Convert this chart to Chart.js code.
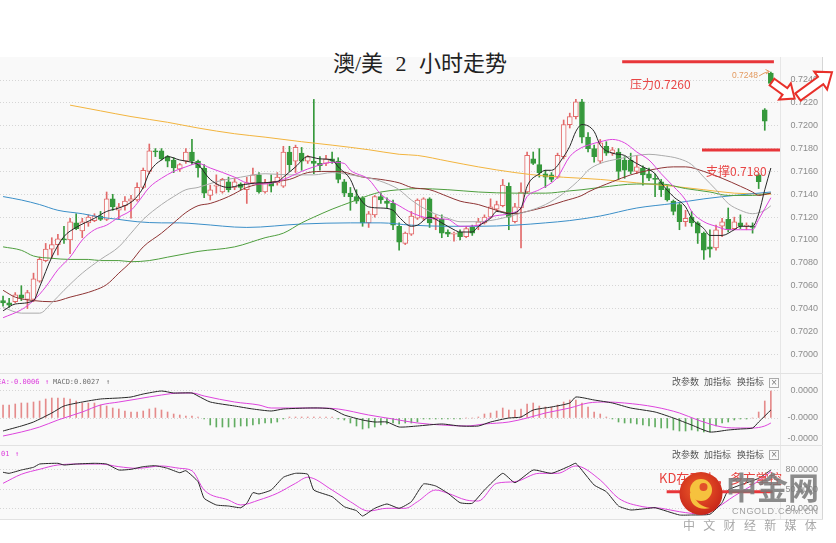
<!DOCTYPE html>
<html><head><meta charset="utf-8">
<script src="https://cdn.jsdelivr.net/npm/chart.js@4.4.0/dist/chart.umd.min.js"></script>
<style>
html,body{margin:0;padding:0;background:#fff;}
#wrap{position:relative;width:836px;height:543px;overflow:hidden;font-family:"Noto Sans CJK SC",sans-serif;}
.abs{position:absolute;white-space:nowrap;}
canvas{position:absolute;left:0;}
.mono{font-family:"DejaVu Sans Mono",monospace;font-size:7px;line-height:11px;}
.tool{font-size:9px;line-height:12px;color:#555;}
.xbox{position:absolute;width:8px;height:8px;border:1px solid #aaa;font-size:8px;line-height:8px;text-align:center;color:#777;font-family:"DejaVu Sans",sans-serif;}
</style></head><body>
<div id="wrap">
  <div class="abs" style="left:0;top:57px;width:823px;height:462px;background:#f9f9f9"></div>
  <div class="abs" style="left:780px;top:57px;width:1px;height:462px;background:#e6e6e6"></div>
  <div class="abs" style="left:822px;top:57px;width:1px;height:462px;background:#d6d6d6"></div>
  <div class="abs" style="left:0;top:373px;width:823px;height:1px;background:#e2e2e2"></div>
  <div class="abs" style="left:0;top:445px;width:823px;height:1px;background:#e2e2e2"></div>
  <div class="abs" style="left:0;top:519px;width:823px;height:1px;background:#e2e2e2"></div>

  <div class="abs" style="left:2px;top:51px;width:836px;text-align:center;font-family:'Liberation Serif','Noto Sans CJK SC',serif;font-size:22px;line-height:26px;word-spacing:7px;color:#222">澳/美 2 小时走势</div>

  <canvas id="cMain" width="836" height="316" style="top:57px"></canvas>
  <canvas id="cMacd" width="836" height="72" style="top:373px"></canvas>
  <canvas id="cKd" width="836" height="73" style="top:446px"></canvas>

  <!-- MACD header -->
  <div class="abs mono" style="left:-7px;top:377px;color:#dd40dd">DEA:-0.0006</div>
  <div class="abs mono" style="left:45px;top:377px;color:#dd40dd">↑</div>
  <div class="abs mono" style="left:53px;top:377px;color:#707070">MACD:0.0027</div>
  <div class="abs mono" style="left:106px;top:377px;color:#707070">↑</div>
  <div class="abs tool" style="left:672px;top:376px">改参数</div>
  <div class="abs tool" style="left:704px;top:376px">加指标</div>
  <div class="abs tool" style="left:737px;top:376px">换指标</div>
  <div class="xbox" style="left:769px;top:378px">×</div>

  <!-- KD header -->
  <div class="abs mono" style="left:-20px;top:449px;color:#dd40dd">D:63.01</div>
  <div class="abs mono" style="left:15px;top:449px;color:#dd40dd">↑</div>
  <div class="abs tool" style="left:672px;top:448.5px">改参数</div>
  <div class="abs tool" style="left:704px;top:448.5px">加指标</div>
  <div class="abs tool" style="left:737px;top:448.5px">换指标</div>
  <div class="xbox" style="left:769px;top:450px">×</div>

  <!-- annotations -->
  <div class="abs" style="left:630px;top:76px;font-size:12px;line-height:16px;color:#e84646">压力0.7260</div>
  <div class="abs" style="left:706px;top:162.5px;font-size:12px;line-height:16px;color:#e84646">支撑0.7180</div>
  <div class="abs" style="left:732px;top:70px;font-family:'Liberation Sans',sans-serif;font-size:8.5px;line-height:11px;color:#e39a60">0.7248</div>
  <div class="abs" style="left:659px;top:468.5px;font-size:13px;line-height:17px;color:#e8433f">KD在50上，多方掌控</div>

  <svg class="abs" style="left:0;top:0" width="836" height="543">
    <defs>
      <radialGradient id="rg" cx="45%" cy="40%" r="60%">
        <stop offset="0" stop-color="#f0602a"/>
        <stop offset="1" stop-color="#c8261a"/>
      </radialGradient>
    </defs>
    <path d="M759,76 Q764,72.5 769,71.5" stroke="#e39a60" fill="none" stroke-width="1"/>
    <path d="M765.5,69.5 L769.5,71.5 L766,74" stroke="#e39a60" fill="none" stroke-width="1"/>
    <g transform="translate(772,82) rotate(36)">
      <polygon points="0,-4 16,-4 16,-10 28,0 16,10 16,4 0,4" fill="#fff" stroke="#e8302a" stroke-width="2" stroke-linejoin="miter"/>
    </g>
    <g transform="translate(798,97) rotate(-36)">
      <polygon points="0,-4.5 28,-4.5 28,-11 42,0 28,11 28,4.5 0,4.5" fill="#fff" stroke="#e8302a" stroke-width="2" stroke-linejoin="miter"/>
    </g>
    <circle cx="701" cy="493.5" r="21.5" fill="url(#rg)"/>
    <circle cx="701" cy="490" r="11" fill="#f6c23e"/>
    <circle cx="703.5" cy="487" r="4" fill="#e2502a"/>
    <path d="M690,493 C689,504 698,511 710,508 C702,507 695,502 694,494 Z" fill="#f6c23e"/>
  </svg>
  <div class="abs" style="left:726px;top:468px;font-size:31px;line-height:36px;font-weight:bold;color:rgba(120,120,120,0.85)">中金网</div>
  <div class="abs" style="left:732px;top:505px;font-family:'Liberation Sans',sans-serif;font-size:9px;line-height:12px;letter-spacing:0.7px;color:#a0a0a0">CNGOLD.COM.CN</div>
  <div class="abs" style="left:683px;top:517px;font-size:12px;line-height:16px;letter-spacing:8.3px;color:#a8a8a8">中文财经新媒体</div>
</div>

<script>
// ---------- candle data (2-hour AUD/USD) ----------
const opens  = [0.7047,0.7045,0.7046,0.7052,0.7048,0.7048,0.7064,0.7082,0.7092,0.7096,0.7101,0.7100,0.7115,0.7108,0.7115,0.7117,0.7121,0.7118,0.7136,0.7126,
0.7130,0.7134,0.7135,0.7146,0.7160,0.7178,0.7178,0.7173,0.7170,0.7162,0.7169,0.7177,0.7169,0.7163,0.7139,0.7147,0.7142,0.7151,0.7146,0.7149,
0.7144,0.7150,0.7157,0.7142,0.7150,0.7150,0.7147,0.7177,0.7169,0.7176,0.7169,0.7169,0.7167,0.7167,0.7171,0.7169,0.7151,0.7141,0.7138,0.7137,
0.7115,0.7122,0.7138,0.7134,0.7132,0.7112,0.7097,0.7105,0.7119,0.7119,0.7136,0.7118,0.7118,0.7107,0.7105,0.7107,0.7103,0.7111,0.7112,0.7115,
0.7120,0.7127,0.7130,0.7147,0.7116,0.7128,0.7142,0.7171,0.7166,0.7158,0.7157,0.7155,0.7173,0.7201,0.7208,0.7221,0.7190,0.7180,0.7169,0.7182,
0.7176,0.7177,0.7170,0.7170,0.7160,0.7163,0.7158,0.7154,0.7151,0.7145,0.7134,0.7131,0.7116,0.7120,0.7115,0.7106,0.7094,0.7093,0.7112,0.7118,
0.7110,0.7115,0.7112,0.7112,0.7157,0.7214,0.7246];
const highs  = [0.7051,0.7049,0.7054,0.7060,0.7056,0.7071,0.7085,0.7097,0.7102,0.7105,0.7112,0.7119,0.7123,0.7119,0.7122,0.7123,0.7125,0.7142,0.7140,0.7132,
0.7138,0.7139,0.7150,0.7163,0.7184,0.7180,0.7180,0.7174,0.7172,0.7167,0.7180,0.7188,0.7170,0.7166,0.7148,0.7157,0.7154,0.7155,0.7154,0.7150,
0.7155,0.7163,0.7159,0.7153,0.7157,0.7159,0.7182,0.7182,0.7183,0.7181,0.7174,0.7223,0.7173,0.7174,0.7177,0.7172,0.7153,0.7146,0.7144,0.7138,
0.7125,0.7139,0.7141,0.7137,0.7135,0.7115,0.7107,0.7125,0.7136,0.7137,0.7137,0.7122,0.7122,0.7109,0.7107,0.7109,0.7112,0.7113,0.7119,0.7122,
0.7136,0.7134,0.7153,0.7150,0.7132,0.7150,0.7177,0.7177,0.7180,0.7161,0.7159,0.7176,0.7205,0.7211,0.7223,0.7223,0.7194,0.7183,0.7188,0.7186,
0.7181,0.7180,0.7173,0.7176,0.7174,0.7165,0.7163,0.7158,0.7153,0.7148,0.7135,0.7132,0.7126,0.7125,0.7116,0.7107,0.7109,0.7113,0.7119,0.7128,
0.7120,0.7122,0.7115,0.7115,0.7158,0.7215,0.7247];
const lows   = [0.7042,0.7041,0.7045,0.7047,0.7040,0.7046,0.7063,0.7081,0.7084,0.7087,0.7097,0.7088,0.7109,0.7102,0.7112,0.7116,0.7117,0.7117,0.7126,0.7118,
0.7126,0.7119,0.7134,0.7145,0.7158,0.7173,0.7170,0.7164,0.7159,0.7160,0.7167,0.7166,0.7155,0.7137,0.7135,0.7141,0.7141,0.7142,0.7144,0.7144,
0.7132,0.7149,0.7141,0.7141,0.7142,0.7148,0.7146,0.7160,0.7159,0.7161,0.7167,0.7158,0.7161,0.7165,0.7167,0.7150,0.7138,0.7126,0.7132,0.7112,
0.7111,0.7120,0.7132,0.7128,0.7109,0.7091,0.7096,0.7104,0.7118,0.7117,0.7111,0.7109,0.7102,0.7103,0.7099,0.7100,0.7102,0.7104,0.7109,0.7114,
0.7119,0.7125,0.7129,0.7109,0.7115,0.7093,0.7141,0.7166,0.7155,0.7146,0.7151,0.7154,0.7171,0.7198,0.7206,0.7185,0.7177,0.7168,0.7167,0.7174,
0.7174,0.7153,0.7154,0.7158,0.7158,0.7148,0.7152,0.7138,0.7138,0.7134,0.7122,0.7109,0.7112,0.7112,0.7097,0.7083,0.7085,0.7091,0.7103,0.7107,
0.7109,0.7110,0.7109,0.7106,0.7145,0.7196,0.7236];
const closes = [0.7045,0.7043,0.7052,0.7049,0.7054,0.7066,0.7083,0.7092,0.7096,0.7101,0.7100,0.7116,0.7110,0.7116,0.7120,0.7121,0.7118,0.7136,0.7129,0.7129,
0.7134,0.7136,0.7146,0.7161,0.7178,0.7177,0.7171,0.7169,0.7163,0.7166,0.7177,0.7169,0.7163,0.7141,0.7144,0.7148,0.7153,0.7144,0.7151,0.7146,
0.7150,0.7157,0.7142,0.7150,0.7147,0.7155,0.7177,0.7166,0.7181,0.7169,0.7173,0.7167,0.7165,0.7171,0.7169,0.7153,0.7141,0.7138,0.7134,0.7115,
0.7123,0.7138,0.7135,0.7132,0.7113,0.7098,0.7106,0.7121,0.7135,0.7136,0.7115,0.7120,0.7106,0.7105,0.7106,0.7103,0.7110,0.7106,0.7116,0.7120,
0.7129,0.7131,0.7148,0.7120,0.7129,0.7142,0.7174,0.7167,0.7159,0.7155,0.7153,0.7174,0.7201,0.7208,0.7221,0.7190,0.7180,0.7173,0.7185,0.7176,
0.7179,0.7160,0.7161,0.7160,0.7164,0.7157,0.7154,0.7153,0.7144,0.7135,0.7125,0.7116,0.7119,0.7115,0.7106,0.7091,0.7092,0.7109,0.7116,0.7109,
0.7116,0.7112,0.7113,0.7111,0.7151,0.7204,0.7237];

// moving averages: [candle index, value]
const ma5 = [[0,0.7038],[2,0.7044],[5,0.7047],[6,0.7059],[8,0.7085],[10,0.7103],[12,0.7111],[15,0.7119],[17,0.7125],[19,0.7128],[21,0.7133],[22,0.7138],[23,0.7146],[24,0.7159],[25,0.7166],[26,0.7170],[27,0.7173],[29,0.7170],[31,0.7168],[32,0.7166],[34,0.7153],[37,0.7146],[39,0.7148],[42,0.7150],[45,0.7151],[46,0.7155],[48,0.7164],[50,0.7173],[52,0.7171],[54,0.7170],[55,0.7164],[57,0.7153],[58,0.7141],[60,0.7129],[62,0.7128],[64,0.7126],[65,0.7120],[67,0.7112],[68,0.7113],[70,0.7120],[72,0.7115],[74,0.7109],[75,0.7107],[77,0.7107],[78,0.7112],[80,0.7119],[81,0.7125],[83,0.7123],[85,0.7128],[86,0.7147],[88,0.7158],[89,0.7161],[90,0.7161],[92,0.7173],[93,0.7182],[94,0.7195],[95,0.7201],[97,0.7195],[98,0.7183],[100,0.7176],[102,0.7174],[103,0.7170],[105,0.7164],[107,0.7158],[108,0.7150],[110,0.7138],[112,0.7129],[113,0.7119],[115,0.7110],[116,0.7104],[118,0.7104],[120,0.7109],[121,0.7112],[123,0.7112],[124,0.7123],[125,0.7144],[126,0.7163]];
const ma10 = [[0,0.7032],[3,0.7039],[5,0.7047],[7,0.7059],[9,0.7074],[11,0.7085],[13,0.7100],[15,0.7109],[17,0.7113],[19,0.7120],[21,0.7126],[22,0.7132],[24,0.7146],[26,0.7154],[28,0.7160],[30,0.7164],[32,0.7167],[34,0.7163],[38,0.7155],[40,0.7150],[43,0.7149],[46,0.7153],[49,0.7160],[51,0.7164],[54,0.7168],[56,0.7167],[57,0.7161],[60,0.7153],[62,0.7140],[65,0.7130],[67,0.7124],[70,0.7119],[73,0.7118],[75,0.7112],[78,0.7113],[80,0.7120],[83,0.7123],[85,0.7128],[86,0.7138],[88,0.7144],[90,0.7150],[91,0.7155],[93,0.7173],[95,0.7181],[96,0.7183],[98,0.7186],[100,0.7188],[102,0.7185],[104,0.7177],[106,0.7170],[108,0.7158],[110,0.7147],[112,0.7135],[113,0.7125],[115,0.7116],[117,0.7112],[119,0.7109],[121,0.7109],[123,0.7109],[124,0.7118],[126,0.7137]];
const ma20 = [[0,0.7041],[3,0.7036],[6,0.7036],[8,0.7045],[10,0.7056],[13,0.7071],[16,0.7083],[19,0.7094],[21,0.7106],[23,0.7118],[26,0.7131],[28,0.7138],[30,0.7144],[32,0.7146],[35,0.7151],[39,0.7155],[43,0.7158],[47,0.7157],[51,0.7157],[54,0.7159],[57,0.7157],[61,0.7153],[64,0.7147],[65,0.7144],[67,0.7135],[70,0.7125],[73,0.7119],[75,0.7116],[78,0.7116],[81,0.7118],[84,0.7122],[86,0.7125],[89,0.7131],[92,0.7141],[95,0.7155],[96,0.7161],[98,0.7167],[101,0.7171],[104,0.7174],[106,0.7175],[108,0.7174],[111,0.7171],[113,0.7166],[115,0.7155],[117,0.7144],[119,0.7132],[121,0.7126],[123,0.7123],[125,0.7126],[126,0.7130]];
const ma30 = [[0,0.7056],[2,0.7050],[5,0.7047],[8,0.7046],[11,0.7050],[15,0.7056],[17,0.7061],[19,0.7071],[21,0.7081],[23,0.7094],[26,0.7106],[28,0.7115],[30,0.7124],[32,0.7130],[34,0.7132],[37,0.7138],[40,0.7146],[43,0.7150],[47,0.7153],[50,0.7159],[53,0.7160],[55,0.7160],[59,0.7155],[62,0.7153],[65,0.7150],[67,0.7146],[70,0.7144],[73,0.7138],[75,0.7134],[78,0.7131],[81,0.7126],[84,0.7123],[86,0.7125],[89,0.7129],[92,0.7134],[95,0.7139],[96,0.7142],[100,0.7151],[103,0.7157],[106,0.7161],[110,0.7164],[112,0.7164],[115,0.7160],[118,0.7154],[121,0.7147],[123,0.7142],[124,0.7139],[126,0.7141]];
const ma60 = [[0,0.7094],[3,0.7091],[5,0.7086],[8,0.7084],[11,0.7083],[14,0.7083],[16,0.7082],[19,0.7082],[21,0.7081],[24,0.7082],[27,0.7085],[30,0.7088],[32,0.7090],[38,0.7094],[43,0.7102],[46,0.7106],[49,0.7115],[51,0.7120],[54,0.7127],[57,0.7133],[60,0.7139],[62,0.7142],[65,0.7144],[68,0.7145],[73,0.7144],[78,0.7142],[84,0.7141],[89,0.7141],[93,0.7143],[95,0.7144],[98,0.7146],[104,0.7149],[108,0.7149],[112,0.7145],[116,0.7142],[119,0.7139],[123,0.7139],[126,0.7141]];
const ma120 = [[0,0.7138],[3,0.7135],[6,0.7131],[9,0.7126],[13,0.7123],[16,0.7120],[19,0.7118],[22,0.7116],[26,0.7115],[29,0.7115],[32,0.7114],[40,0.7111],[49,0.7114],[57,0.7115],[62,0.7115],[67,0.7113],[73,0.7112],[78,0.7112],[84,0.7113],[89,0.7115],[93,0.7117],[98,0.7121],[104,0.7128],[110,0.7132],[115,0.7136],[120,0.7139],[126,0.7142]];
const ma250 = [[11,0.7218],[16,0.7213],[21,0.7208],[27,0.7203],[32,0.7198],[38,0.7193],[43,0.7190],[49,0.7186],[54,0.7183],[60,0.7179],[65,0.7175],[68,0.7174],[73,0.7169],[78,0.7164],[84,0.7159],[89,0.7156],[95,0.7154],[98,0.7153],[104,0.7150],[110,0.7147],[115,0.7144],[120,0.7141],[126,0.7140]];

// analyst lines
const resistLine = [[101.6,0.7256],[126.5,0.7256]];
const supportLine = [[114.7,0.71788],[127.5,0.71788]];
const kdLine = [[108.9,46.6],[126.3,46.6]];

// MACD
const macdHist = [0.0013,0.0013,0.0014,0.0015,0.0015,0.0016,0.0017,0.0019,0.0020,0.0020,0.0020,0.0019,0.0017,0.0015,0.0015,0.0015,0.0013,0.0012,0.0010,0.0009,
0.0007,0.0006,0.0006,0.0007,0.0009,0.0010,0.0008,0.0006,0.0004,0.0003,0.0002,0.0002,0.0001,
-0.0001,-0.0007,-0.0009,-0.0009,-0.0009,-0.0009,-0.0008,-0.0008,-0.0007,-0.0006,-0.0005,-0.0005,-0.0004,-0.0001,
0.0001,0.0001,0.0001,0.0001,0.0001,0.0001,0.0001,0.0001,-0.0001,
-0.0002,-0.0005,-0.0008,-0.0011,-0.0010,-0.0009,-0.0007,-0.0006,-0.0005,-0.0006,
-0.0005,-0.0005,-0.0004,-0.0001,-0.0001,-0.0001,-0.0001,-0.0001,-0.0001,-0.0001,0,0,
0.0001,0.0004,0.0005,0.0007,0.0010,0.0008,0.0008,0.0009,0.0014,0.0015,0.0012,0.0011,0.0011,0.0013,0.0016,0.0018,0.0018,0.0015,0.0011,0.0006,0.0004,
0.0001,-0.0001,
-0.0004,-0.0005,-0.0005,-0.0006,-0.0007,-0.0008,-0.0009,-0.0010,-0.0010,-0.0012,-0.0013,-0.0013,-0.0012,-0.0013,-0.0014,-0.0014,-0.0008,-0.0005,-0.0004,-0.0002,-0.0001,-0.0001,0,
0.0006,0.0017,0.0027];
const dif = [[0,-0.0013],[3,-0.0008],[5,-0.0004],[8,0.0005],[10,0.0012],[13,0.0016],[16,0.0019],[19,0.0020],[21,0.0021],[23,0.0024],[26,0.0027],[28,0.0025],[31,0.0025],[32,0.0022],[34,0.0016],[38,0.0012],[41,0.0009],[44,0.0007],[46,0.0009],[50,0.0010],[52,0.0010],[54,0.0009],[56,0.0003],[59,-0.0002],[61,-0.0004],[63,-0.0004],[65,-0.0009],[68,-0.0008],[72,-0.0006],[75,-0.0008],[78,-0.0008],[80,-0.0004],[83,0.0000],[85,0.0001],[87,0.0008],[90,0.0011],[93,0.0015],[94,0.0021],[97,0.0018],[100,0.0015],[103,0.0010],[107,0.0006],[110,0.0000],[113,-0.0007],[116,-0.0014],[119,-0.0012],[121,-0.0011],[123,-0.0010],[124,-0.0004],[126,0.0008]];
const dea = [[0,-0.0018],[3,-0.0014],[6,-0.0009],[9,-0.0002],[13,0.0006],[16,0.0013],[19,0.0016],[22,0.0019],[26,0.0023],[29,0.0025],[31,0.0025],[33,0.0022],[38,0.0016],[42,0.0013],[44,0.0010],[47,0.0010],[52,0.0010],[55,0.0009],[60,0.0003],[64,-0.0001],[68,-0.0005],[72,-0.0007],[76,-0.0008],[79,-0.0006],[83,-0.0004],[86,0.0000],[89,0.0005],[93,0.0010],[96,0.0015],[99,0.0016],[102,0.0015],[107,0.0011],[111,0.0005],[114,-0.0002],[118,-0.0009],[121,-0.0010],[123,-0.0010],[125,-0.0008],[126,-0.0005]];

// KD
const kLine = [[0,76.5],[1,74.9],[3,80],[5,84.2],[6,89.2],[9,90.3],[10,87.7],[12,89.2],[15,90.3],[17,89.2],[19,80],[21,81.1],[23,85.1],[25,86.6],[27,82.6],[29,75.8],[30,78.9],[32,62],[33,36.5],[35,26.2],[37,24.6],[39,22],[40,28.8],[41,45.1],[42,43.1],[44,49.2],[46,68.8],[48,74.9],[50,73.4],[51,49.2],[54,38.9],[56,23.5],[58,17.4],[59,9.2],[61,21.1],[63,27.7],[65,21.1],[67,31.2],[69,58.5],[71,55.4],[73,44.2],[75,29.7],[77,28.8],[79,49.2],[82,74.9],[84,60.5],[87,80],[90,74.9],[93,86.2],[94,90.3],[97,56.9],[99,46.6],[101,24.6],[103,18.5],[106,21.1],[107,22],[111,10.8],[113,10.8],[116,12],[118,30],[119,49.2],[121,56.9],[124,67.2],[126,80]];
const dLine = [[0,59.5],[3,73.4],[6,81.1],[9,87.7],[13,89.2],[16,89.2],[19,85.1],[22,82.6],[26,86.2],[29,82.6],[31,78.9],[33,49.2],[37,33.8],[39,26.2],[42,33.8],[45,44.2],[48,59.5],[50,68.8],[54,49.2],[57,31.2],[60,16.9],[63,21.1],[66,21.1],[68,31.2],[71,49.2],[73,44.2],[76,33.8],[78,32.3],[81,59.5],[84,62],[88,74.9],[91,74.9],[94,86.2],[98,64.6],[101,36.5],[105,23.5],[108,21.1],[111,15.8],[115,12],[117,21],[120,40],[123,56.9],[126,77.4]];

// axis ticks
const mainTicks = [0.7000,0.7020,0.7040,0.7060,0.7080,0.7100,0.7120,0.7140,0.7160,0.7180,0.7200,0.7220,0.7240];
const mainTickLabels = mainTicks.map(v => v.toFixed(4));
const macdTicks = [-0.0021, 0, 0.0027];
const macdTickLabels = ['-0.0000','-0.0000','0.0000'];
const kdTicks = [20, 50, 80];
const kdTickLabels = ['20.0000','50.0000','80.0000'];

// ---------- drawing ----------
const UP = '#e26a6a', DOWN = '#36993c';
const idx = opens.map((_, i) => i);
const isUp = idx.map(i => closes[i] >= opens[i]);

function xAxis() { return { type: 'linear', min: -0.5, max: 127.5, display: false, offset: false }; }
function yAxis(min, max, ticksArr, labels, gridColor) {
  return {
    position: 'right', min: min, max: max,
    afterFit: s => { s.width = 38; s.paddingTop = 0; s.paddingBottom = 0; },
    afterBuildTicks: s => { s.ticks = ticksArr.map(v => ({ value: v })); },
    ticks: { callback: (v, i) => labels[i], color: '#8c8c8c', font: { family: 'Liberation Sans', size: 9 }, padding: 4, crossAlign: 'far', autoSkip: false },
    grid: { color: gridColor || '#d6d6d6', drawTicks: false, lineWidth: 1 },
    border: { display: false, dash: [1, 2] }
  };
}
function line(pairs, color, extra) {
  return Object.assign({ type: 'line', data: pairs.map(p => ({ x: p[0], y: p[1] })), borderColor: color, borderWidth: 1,
    pointRadius: 0, cubicInterpolationMode: 'monotone', fill: false, order: 1 }, extra || {});
}
const common = { responsive: false, animation: false, devicePixelRatio: 1, events: [],
  layout: { padding: { left: 0, top: 0, bottom: 0, right: 18 } }, plugins: { legend: { display: false }, tooltip: { enabled: false } } };

new Chart(document.getElementById('cMain'), {
  type: 'bar',
  data: { datasets: [
    line(resistLine, '#e8363a', { borderWidth: 3, order: 0, cubicInterpolationMode: 'default', tension: 0 }),
    line(supportLine, '#e8363a', { borderWidth: 3, order: 0, cubicInterpolationMode: 'default', tension: 0 }),
    line(ma5, '#262626'),
    line(ma10, '#dd44dd'),
    line(ma20, '#ababab'),
    line(ma30, '#8e3434'),
    line(ma60, '#4e9e3e'),
    line(ma120, '#3b8fc8'),
    line(ma250, '#f2b43e'),
    { type: 'bar', data: idx.map(i => ({ x: i, y: [opens[i], closes[i]] })),
      backgroundColor: isUp.map(u => u ? '#fbfbfb' : DOWN), borderColor: isUp.map(u => u ? UP : DOWN),
      borderWidth: 1, borderSkipped: false, barThickness: 5, grouped: false, order: 10 },
    { type: 'bar', data: idx.map(i => ({ x: i, y: [lows[i], highs[i]] })),
      backgroundColor: isUp.map(u => u ? UP : DOWN), borderWidth: 0, barThickness: 1, grouped: false, order: 20 }
  ] },
  options: Object.assign({}, common, { scales: {
    x: xAxis(),
    y: yAxis(0.698363, 0.726013, mainTicks, mainTickLabels)
  } })
});

new Chart(document.getElementById('cMacd'), {
  type: 'bar',
  data: { datasets: [
    line(dif, '#262626', { cubicInterpolationMode: 'default', tension: 0.2 }),
    line(dea, '#dd44dd'),
    { type: 'bar', data: idx.map(i => ({ x: i, y: macdHist[i] })),
      backgroundColor: macdHist.map(v => v >= 0 ? '#e58b8b' : '#62ad62'), borderWidth: 0, barThickness: 1, grouped: false, order: 10 }
  ] },
  options: Object.assign({}, common, { scales: {
    x: xAxis(),
    y: yAxis(-0.0027, 0.0045, macdTicks, macdTickLabels, c => c.index === 0 ? 'rgba(0,0,0,0)' : '#d6d6d6')
  } })
});

new Chart(document.getElementById('cKd'), {
  type: 'line',
  data: { datasets: [
    line(kdLine, '#e8363a', { borderWidth: 3, order: 0, cubicInterpolationMode: 'default', tension: 0 }),
    line(kLine, '#262626', { cubicInterpolationMode: 'default', tension: 0.15 }),
    line(dLine, '#dd44dd')
  ] },
  options: Object.assign({}, common, { scales: {
    x: xAxis(),
    y: yAxis(4.615, 116.92, kdTicks, kdTickLabels)
  } })
});
</script>
</body></html>
